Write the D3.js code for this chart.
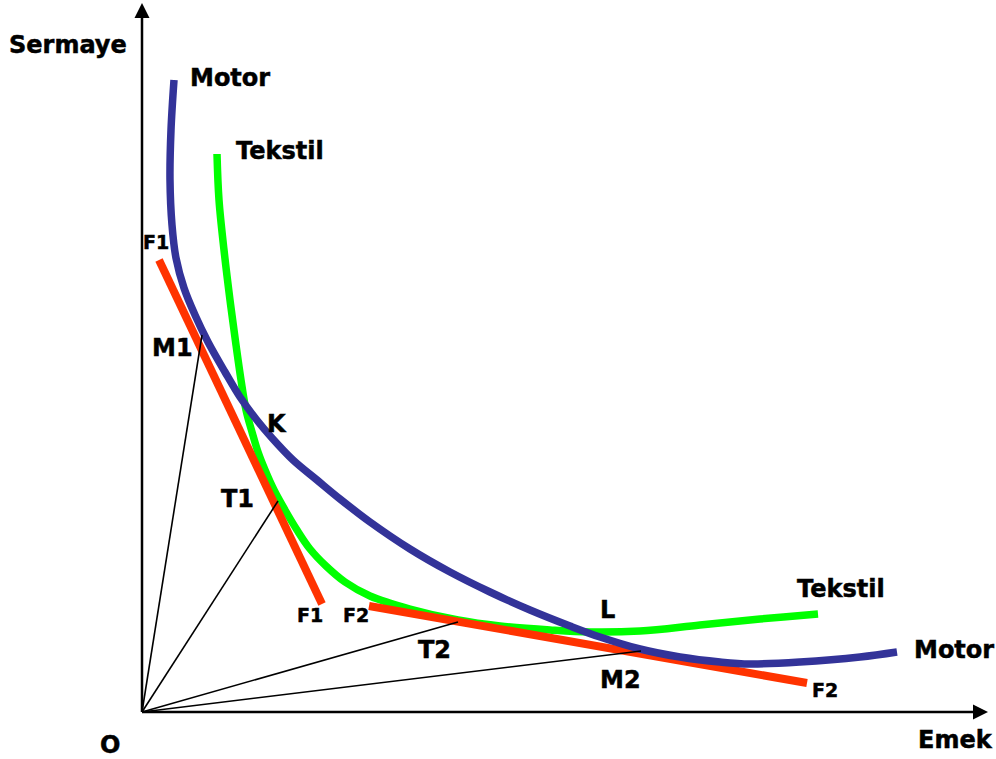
<!DOCTYPE html>
<html>
<head>
<meta charset="utf-8">
<script src="https://cdn.jsdelivr.net/npm/d3@7"></script>
<style>
  html, body { margin: 0; padding: 0; background: #fff; }
  svg { display: block; }
  text { font-family: "DejaVu Sans", Verdana, sans-serif; font-weight: bold; fill: #000; stroke: #000; stroke-width: 0.5px; }
</style>
</head>
<body>
<svg id="chart" width="996" height="759"></svg>
<script>
// ---- Data (labour = Emek on x, capital = Sermaye on y), arbitrary units ----
const motorL   = [32, 29, 28, 30, 34, 42, 53, 66, 83, 98, 114, 130, 151, 175, 198, 228, 268, 308, 348, 388, 428, 458, 498, 538, 578, 608, 658, 718, 755];
const motorK   = [632, 582, 532, 487, 454, 424, 397, 370, 340, 315, 293, 274, 252, 232, 213, 190, 163, 140, 120, 102, 86, 75, 63, 55, 50, 48, 50, 55, 60];

const tekstilL = [75, 77, 82, 88, 94, 99, 104, 110, 116, 123, 132, 143, 155, 168, 184, 203, 228, 268, 316, 358, 408, 448, 498, 558, 618, 676];
const tekstilK = [558, 512, 462, 412, 367, 332, 302, 280, 260, 242, 222, 202, 182, 163, 146, 130, 116, 103, 92, 86, 82, 80, 81, 87, 93, 98];

// isocost lines F1 and F2 (start / end)
const f1L = [17, 180];
const f1K = [452, 108];
const f2L = [227, 665];
const f2K = [106, 29];

// rays from origin to tangency points M1, T1, T2, M2
const rayNames = ["M1", "T1", "T2", "M2"];
const rayL = [60, 136, 316, 499];
const rayK = [377, 211, 90, 61];

// axis extents
const axisMaxL = 846;
const axisMaxK = 709;

// annotation labels
const labelText = ["Sermaye", "Motor", "Tekstil", "F1", "M1", "K", "T1", "F1", "F2", "T2", "L", "M2", "Tekstil", "Motor", "F2", "O", "Emek"];
const labelL    = [-133, 48, 94, 1, 10, 125, 79, 155, 201, 276, 458, 458, 655, 772, 670, -42, 776];
const labelK    = [659, 626, 553, 463, 356, 280, 205, 90, 90, 54, 94, 24, 115, 54, 15, -41, -36];
const labelSmall = [false, false, false, true, false, false, false, true, true, false, false, false, false, false, true, false, false];

// ---- Drawing ----
const svg = d3.select("#chart");
const x = d3.scaleLinear().domain([0, 850]).range([142, 992]);
const y = d3.scaleLinear().domain([0, 712]).range([712, 0]);

const line = d3.line().x(d => x(d[0])).y(d => y(d[1])).curve(d3.curveCatmullRom.alpha(0.5));
const straight = d3.line().x(d => x(d[0])).y(d => y(d[1]));

// axes
const ax = svg.append("g");
ax.append("line")
  .attr("x1", x(0)).attr("y1", y(0)).attr("x2", x(0)).attr("y2", y(axisMaxK) + 14)
  .attr("stroke", "#000").attr("stroke-width", 2.5);
ax.append("path")
  .attr("d", `M${x(0)},${y(axisMaxK)} L${x(0) - 7.5},${y(axisMaxK) + 15} L${x(0) + 7.5},${y(axisMaxK) + 15} Z`)
  .attr("fill", "#000");
ax.append("line")
  .attr("x1", x(0)).attr("y1", y(0)).attr("x2", x(axisMaxL) - 14).attr("y2", y(0))
  .attr("stroke", "#000").attr("stroke-width", 2.5);
ax.append("path")
  .attr("d", `M${x(axisMaxL)},${y(0)} L${x(axisMaxL) - 15},${y(0) - 7.5} L${x(axisMaxL) - 15},${y(0) + 7.5} Z`)
  .attr("fill", "#000");

// Tekstil isoquant
svg.append("path")
  .datum(tekstilL.map((v, i) => [v, tekstilK[i]]))
  .attr("d", line)
  .attr("fill", "none").attr("stroke", "#00ff00").attr("stroke-width", 7.5);

// isocost lines
[[f1L, f1K], [f2L, f2K]].forEach(([ls, ks]) => {
  svg.append("path")
    .datum(ls.map((v, i) => [v, ks[i]]))
    .attr("d", straight)
    .attr("fill", "none").attr("stroke", "#ff3300").attr("stroke-width", 8);
});

// Motor isoquant
svg.append("path")
  .datum(motorL.map((v, i) => [v, motorK[i]]))
  .attr("d", line)
  .attr("fill", "none").attr("stroke", "#333399").attr("stroke-width", 7.5);

// rays
svg.append("g").selectAll("line")
  .data(rayNames)
  .join("line")
  .attr("x1", x(0)).attr("y1", y(0))
  .attr("x2", (d, i) => x(rayL[i])).attr("y2", (d, i) => y(rayK[i]))
  .attr("stroke", "#000").attr("stroke-width", 1.6);

// labels
svg.append("g").selectAll("text")
  .data(labelText)
  .join("text")
  .attr("x", (d, i) => x(labelL[i]))
  .attr("y", (d, i) => y(labelK[i]))
  .attr("font-size", (d, i) => labelSmall[i] ? 19 : 24)
  .text(d => d);
</script>
</body>
</html>
